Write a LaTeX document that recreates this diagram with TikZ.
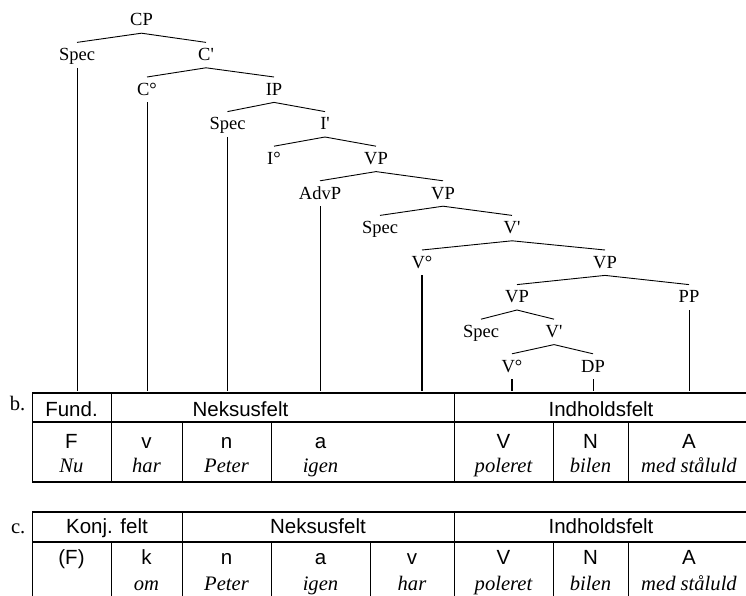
\documentclass[tikz,border=0pt]{standalone}
\usepackage{fontspec}
\setmainfont{Liberation Serif}
\newfontfamily\treefont{Liberation Serif}[Ligatures=TeXOff]
\newfontfamily\arialfont{Liberation Sans}
\begin{document}
\begin{tikzpicture}[x=1pt,y=-1pt,
  tn/.style={font=\treefont\fontsize{18.5}{20}\selectfont, anchor=base, inner xsep=0pt, inner ysep=5pt, text height=13pt, text depth=2pt},
  br/.style={line width=0.9pt},
  leaf/.style={line width=0.9pt},
  thickleaf/.style={line width=1.9pt},
  hd/.style={font=\arialfont\fontsize{20.5}{22}\selectfont, anchor=base, inner sep=0pt},
  wd/.style={font=\itshape\fontsize{20.6}{22}\selectfont, anchor=base, inner sep=0pt},
  lab/.style={font=\fontsize{20.6}{22}\selectfont, anchor=base east, inner sep=0pt},
  hline/.style={line width=1.6pt},
  vline/.style={line width=0.8pt}]
\useasboundingbox (0,0) rectangle (746,596);

% ---------- tree ----------
\node[tn] (cp)   at (141.5,26) {CP};
\node[tn] (spa)  at (77,60.6) {Spec};
\node[tn] (cb)   at (206,60.6) {C'};
\node[tn] (c0)   at (147,95.2) {C\textdegree};
\node[tn] (ip)   at (274,95.2) {IP};
\node[tn] (spb)  at (227.5,129.8) {Spec};
\node[tn] (ib)   at (325,129.8) {I'};
\node[tn] (i0)   at (274,164.4) {I\textdegree};
\node[tn] (vpa)  at (376,164.4) {VP};
\node[tn] (advp) at (320,199) {AdvP};
\node[tn] (vpb)  at (443,199) {VP};
\node[tn] (spc)  at (380,233.6) {Spec};
\node[tn] (vba)  at (512,233.6) {V'};
\node[tn] (v0a)  at (422,268.2) {V\textdegree};
\node[tn] (vpc)  at (605,268.2) {VP};
\node[tn] (vpd)  at (517,302.8) {VP};
\node[tn] (pp)   at (689,302.8) {PP};
\node[tn] (spd)  at (481,337.4) {Spec};
\node[tn] (vbb)  at (554,337.4) {V'};
\node[tn] (v0b)  at (512,372) {V\textdegree};
\node[tn] (dp)   at (593,372) {DP};

\foreach \p/\a/\b in {cp/spa/cb, cb/c0/ip, ip/spb/ib, ib/i0/vpa, vpa/advp/vpb,
                      vpb/spc/vba, vba/v0a/vpc, vpc/vpd/pp, vpd/spd/vbb, vbb/v0b/dp}
  \draw[br] (\a.north) -- (\p.south) -- (\b.north);

\coordinate (lend) at (0,390.5);
\foreach \n in {spa, c0, spb, advp, pp, dp}
  \draw[leaf] (\n.south) -- (\n.south |- lend);
\foreach \n in {v0a, v0b}
  \draw[thickleaf] (\n.south) -- (\n.south |- lend);

% ---------- table b ----------
\node[lab] (lb) at (25.5,410) {b.};
\draw[hline] (32,393) -- (746,393);
\draw[hline] (32,422) -- (746,422);
\draw[hline] (32,482) -- (746,482);
\foreach \x in {32,111,454} \draw[vline] (\x,393) -- (\x,482);
\foreach \x in {182,271,553,628} \draw[vline] (\x,422) -- (\x,482);

\node[hd] (bh1) at (71.5,416) {Fund.};
\node[hd] (bh2) at (240.5,416) {Neksusfelt};
\node[hd] (bh3) at (601,416) {Indholdsfelt};

\node[hd] (bF) at (71.5,448) {F};
\node[hd] (bv) at (146.5,448) {v};
\node[hd] (bn) at (226.5,448) {n};
\node[hd] (ba) at (320.5,448) {a};
\node[hd] (bV) at (503.5,448) {V};
\node[hd] (bN) at (590.5,448) {N};
\node[hd] (bA) at (689,448) {A};

\node[wd] (bw1) at (71.5,472) {Nu};
\node[wd] (bw2) at (146.5,472) {har};
\node[wd] (bw3) at (226.5,472) {Peter};
\node[wd] (bw4) at (320.5,472) {igen};
\node[wd] (bw5) at (503.5,472) {poleret};
\node[wd] (bw6) at (590.5,472) {bilen};
\node[wd] (bw7) at (689,472) {med ståluld};

% ---------- table c ----------
\node[lab] (lc) at (25.5,533.5) {c.};
\draw[hline] (32,512) -- (746,512);
\draw[hline] (32,542) -- (746,542);
\foreach \x in {32,182,454} \draw[vline] (\x,512) -- (\x,596);
\foreach \x in {111,271,370,553,628} \draw[vline] (\x,542) -- (\x,596);

\node[hd] (ch1) at (107,533.5) {Konj. felt};
\node[hd] (ch2) at (318,533.5) {Neksusfelt};
\node[hd] (ch3) at (601,533.5) {Indholdsfelt};

\node[hd] (cF) at (71.5,564) {(F)};
\node[hd] (ck) at (146.5,564) {k};
\node[hd] (cn) at (226.5,564) {n};
\node[hd] (ca) at (320.5,564) {a};
\node[hd] (cv) at (412,564) {v};
\node[hd] (cV) at (503.5,564) {V};
\node[hd] (cN) at (590.5,564) {N};
\node[hd] (cA) at (689,564) {A};

\node[wd] (cw2) at (146.5,590.5) {om};
\node[wd] (cw3) at (226.5,590.5) {Peter};
\node[wd] (cw4) at (320.5,590.5) {igen};
\node[wd] (cw5) at (412,590.5) {har};
\node[wd] (cw6) at (503.5,590.5) {poleret};
\node[wd] (cw7) at (590.5,590.5) {bilen};
\node[wd] (cw8) at (689,590.5) {med ståluld};
\end{tikzpicture}
\end{document}
